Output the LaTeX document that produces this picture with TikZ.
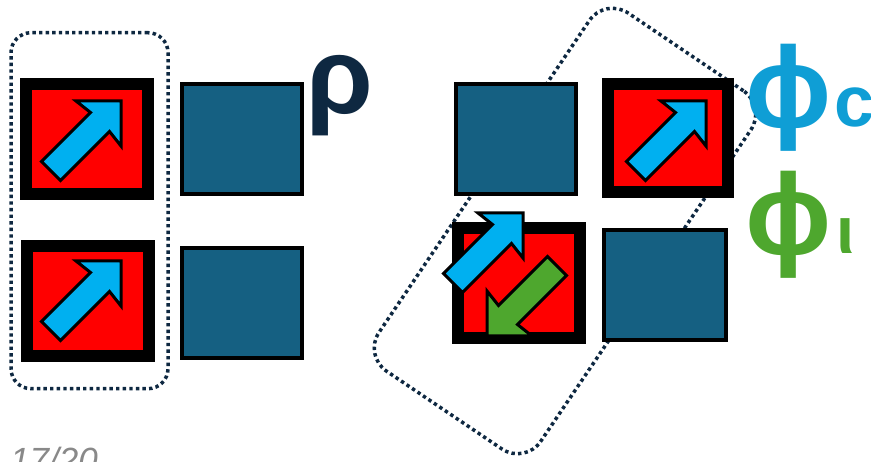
\documentclass[tikz,border=0pt]{standalone}
\usepackage{fontspec}
\setmainfont{Liberation Sans}
\newfontfamily\pagefont{Liberation Sans}
\definecolor{boxblue}{HTML}{156082}
\definecolor{arrowblue}{HTML}{00B0F0}
\definecolor{phigreen}{HTML}{4EA72E}
\definecolor{phiblue}{HTML}{0F9ED5}
\definecolor{navy}{HTML}{0E2841}
\definecolor{pagegrey}{HTML}{898989}
\newcommand\fatarrow[4]{%
  \begin{scope}[shift={(#1,#2)},rotate=#3]
    \filldraw[bigarrow,fill=#4] (0,0) -- (-45,0) -- (-30.5,11.5) -- (-79.5,60.5)
      -- (-60.5,79.5) -- (-11.5,30.5) -- (0,45) -- cycle;
  \end{scope}}
\begin{document}
\begin{tikzpicture}[x=1pt,y=-1pt,
  redbox/.style={draw=black,line width=12pt,fill=red,inner sep=0pt,
    minimum width=122pt,minimum height=110pt},
  bluebox/.style={draw=black,line width=4pt,fill=boxblue,inner sep=0pt,
    minimum width=120pt,minimum height=110pt},
  dotbox/.style={draw=navy,line width=3.5pt,dash pattern=on 3.4pt off 3.2pt,
    inner sep=0pt},
  bigarrow/.style={draw=black,line width=3pt,line join=miter},
  label/.style={anchor=base west,inner sep=0pt}]
\useasboundingbox (0,0) rectangle (871,462);
% dotted groups
\node[dotbox,minimum width=157pt,minimum height=356pt,rounded corners=20pt] (grpA) at (89.5,210.7) {};
\node[dotbox,rotate=-34,minimum width=195pt,minimum height=432pt,rounded corners=28pt] (grpB) at (565,231) {};
% left group
\node[redbox] (l1) at (87,139) {};
\node[redbox] (l2) at (88,301) {};
\node[bluebox] (b1) at (242,139) {};
\node[bluebox] (b2) at (242,303) {};
\fatarrow{121}{101}{0}{arrowblue}
\fatarrow{121}{261}{0}{arrowblue}
% right group
\node[bluebox] (r1) at (516,139) {};
\node[redbox,minimum height=108pt,minimum width=120pt] (r2) at (668,138) {};
\node[redbox] (r3) at (519,283) {};
\node[bluebox,minimum width=122pt] (r4) at (665,285) {};
\fatarrow{706}{101}{0}{arrowblue}
\fatarrow{523}{213}{0}{arrowblue}
\fatarrow{487}{336}{180}{phigreen}
% labels
\node[label,text=navy,font=\fontsize{108}{108}\selectfont\bfseries] (rho) at (306,114) {ρ};
\node[label,text=phiblue,font=\fontsize{115}{115}\selectfont\bfseries] (phic) at (745,128) {ϕ};
\node[label,text=phiblue,font=\fontsize{72}{72}\selectfont\bfseries] (csub) at (834,127) {c};
\node[label,text=phigreen,font=\fontsize{115}{115}\selectfont\bfseries] (phil) at (745,255) {ϕ};
\node[label,text=phigreen,font=\fontsize{66}{66}\selectfont\bfseries] (lsub) at (836,254) {ι};
\node[label,text=pagegrey,font=\pagefont\itshape\fontsize{35}{35}\selectfont] (page) at (10,472) {17/20};
\end{tikzpicture}
\end{document}
